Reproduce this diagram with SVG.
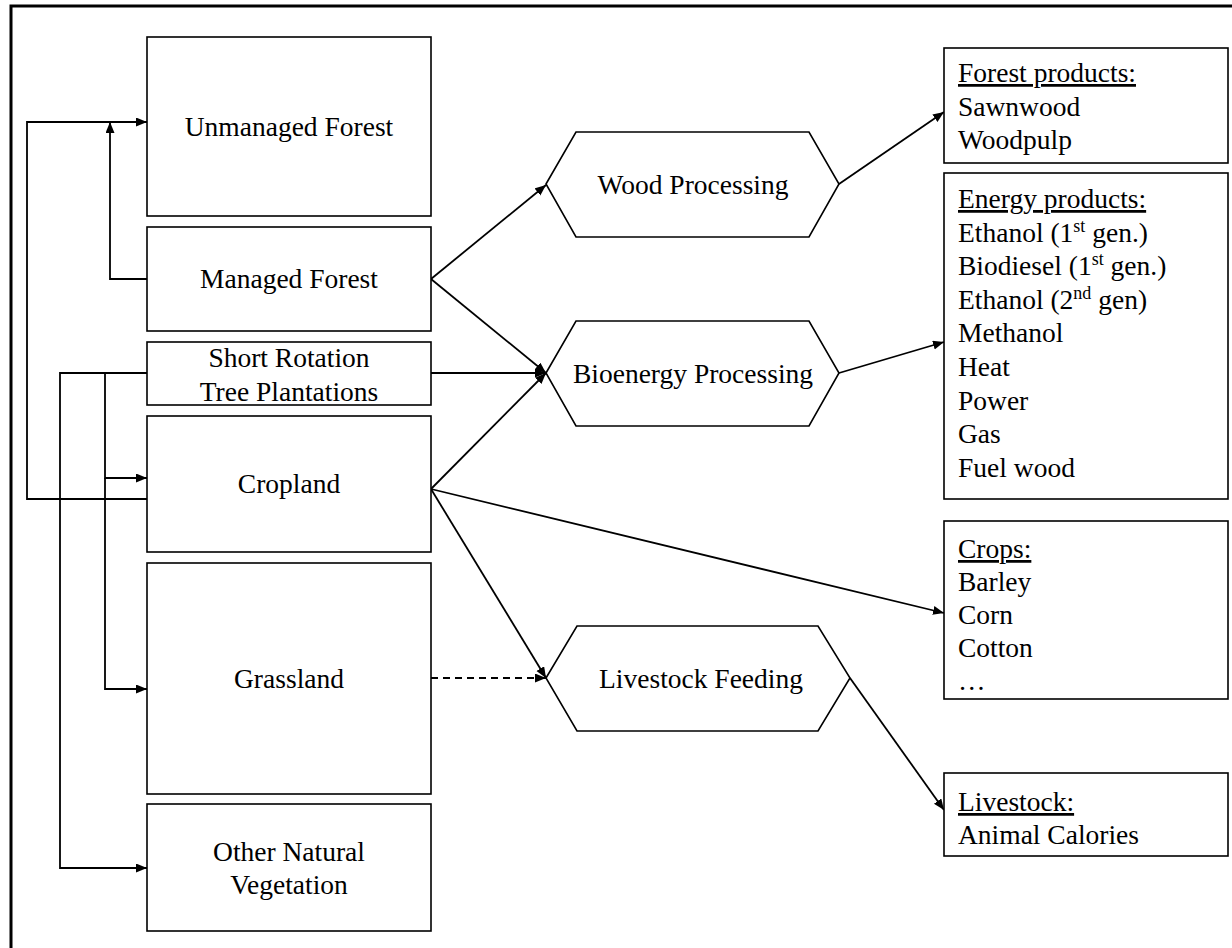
<svg xmlns="http://www.w3.org/2000/svg" width="1232" height="948" viewBox="0 0 1232 948">
<style>
text{font-family:"Liberation Serif","Times New Roman",serif;font-size:27.5px;fill:#000}
.c{text-anchor:middle}
.box{fill:#fff;stroke:#000;stroke-width:1.6}
.ln{fill:none;stroke:#000;stroke-width:1.8}
.u{text-decoration:underline}
</style>
<defs>
<marker id="ah" markerUnits="userSpaceOnUse" markerWidth="12" markerHeight="10" refX="11" refY="4.5" orient="auto">
<path d="M0,0 L11,4.5 L0,9 z" fill="#000"/>
</marker>
</defs>
<rect width="1232" height="948" fill="#fff"/>
<path d="M11,948 V6 H1232" fill="none" stroke="#000" stroke-width="3"/>

<g id="connectors">
<path class="ln" d="M147,279 H110 V122" marker-end="url(#ah)"/>
<path class="ln" d="M147,499 H27 V122 H147" marker-end="url(#ah)"/>
<path class="ln" d="M147,373 H105 V478 H147" marker-end="url(#ah)"/>
<path class="ln" d="M105,478 V689 H147" marker-end="url(#ah)"/>
<path class="ln" d="M105,373 H60 V868 H147" marker-end="url(#ah)"/>
<path class="ln" d="M431,279 L546,185" marker-end="url(#ah)"/>
<path class="ln" d="M431,279 L546,373" marker-end="url(#ah)"/>
<path class="ln" d="M431,373 H546" marker-end="url(#ah)"/>
<path class="ln" d="M431,489 L546,373" marker-end="url(#ah)"/>
<path class="ln" d="M431,489 L546,678" marker-end="url(#ah)"/>
<path class="ln" d="M431,489 L944,613" marker-end="url(#ah)"/>
<path class="ln" d="M431,678 H546" stroke-dasharray="7,5" marker-end="url(#ah)"/>
<path class="ln" d="M839,184 L944,112" marker-end="url(#ah)"/>
<path class="ln" d="M839,373 L944,342" marker-end="url(#ah)"/>
<path class="ln" d="M850,678 L944,810" marker-end="url(#ah)"/>
</g>

<g id="unmanaged-forest"><rect class="box" x="147" y="37" width="284" height="179"/><text class="c" x="289" y="136">Unmanaged Forest</text></g>
<g id="managed-forest"><rect class="box" x="147" y="227" width="284" height="104"/><text class="c" x="289" y="288">Managed Forest</text></g>
<g id="short-rotation"><rect class="box" x="147" y="342" width="284" height="63"/><text class="c" x="289" y="367">Short Rotation</text><text class="c" x="289" y="401">Tree Plantations</text></g>
<g id="cropland"><rect class="box" x="147" y="416" width="284" height="136"/><text class="c" x="289" y="493">Cropland</text></g>
<g id="grassland"><rect class="box" x="147" y="563" width="284" height="231"/><text class="c" x="289" y="688">Grassland</text></g>
<g id="other-natural"><rect class="box" x="147" y="804" width="284" height="127"/><text class="c" x="289" y="861">Other Natural</text><text class="c" x="289" y="894">Vegetation</text></g>

<g id="wood-processing"><polygon class="box" points="546,184 576,132 809,132 839,184 809,237 576,237"/><text class="c" x="693" y="194">Wood Processing</text></g>
<g id="bioenergy-processing"><polygon class="box" points="546,373 576,321 809,321 839,373 809,426 576,426"/><text class="c" x="693" y="383">Bioenergy Processing</text></g>
<g id="livestock-feeding"><polygon class="box" points="546,678 577,626 818,626 850,678 818,731 577,731"/><text class="c" x="701" y="688">Livestock Feeding</text></g>

<g id="forest-products"><rect class="box" x="944" y="48" width="284" height="115"/>
<text x="958" y="82"><tspan class="u">Forest products:</tspan></text>
<text x="958" y="115.5">Sawnwood</text>
<text x="958" y="149">Woodpulp</text></g>

<g id="energy-products"><rect class="box" x="944" y="173" width="284" height="326"/>
<text x="958" y="208"><tspan class="u">Energy products:</tspan></text>
<text x="958" y="241.6">Ethanol (1<tspan font-size="18" dy="-10">st</tspan><tspan dy="10"> gen.)</tspan></text>
<text x="958" y="275.2">Biodiesel (1<tspan font-size="18" dy="-10">st</tspan><tspan dy="10"> gen.)</tspan></text>
<text x="958" y="308.8">Ethanol (2<tspan font-size="18" dy="-10">nd</tspan><tspan dy="10"> gen)</tspan></text>
<text x="958" y="342.4">Methanol</text>
<text x="958" y="376">Heat</text>
<text x="958" y="409.6">Power</text>
<text x="958" y="443.2">Gas</text>
<text x="958" y="476.8">Fuel wood</text></g>

<g id="crops"><rect class="box" x="944" y="521" width="284" height="178"/>
<text x="958" y="558"><tspan class="u">Crops:</tspan></text>
<text x="958" y="591">Barley</text>
<text x="958" y="624">Corn</text>
<text x="958" y="657">Cotton</text>
<text x="958" y="690">…</text></g>

<g id="livestock"><rect class="box" x="944" y="773" width="284" height="83"/>
<text x="958" y="811"><tspan class="u">Livestock:</tspan></text>
<text x="958" y="844">Animal Calories</text></g>
</svg>
